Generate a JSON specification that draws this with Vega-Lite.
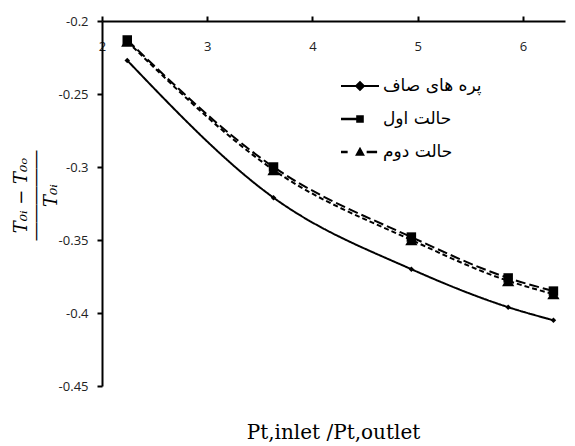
{
  "$schema": "https://vega.github.io/schema/vega-lite/v6.json",
  "width": 463,
  "height": 365,
  "autosize": "none",
  "padding": {"left": 102, "top": 21, "right": 10, "bottom": 60},
  "background": "white",
  "config": {
    "view": {"stroke": null},
    "axis": {"grid": false, "domainColor": "black", "domainWidth": 2, "tickColor": "black", "tickWidth": 2, "labelFont": "Open Sans", "labelFontSize": 13, "labelColor": "#222"}
  },
  "title": {"text": "Pt,inlet /Pt,outlet", "orient": "bottom", "font": "DejaVu Serif", "fontSize": 20, "fontWeight": "normal", "offset": 30, "color": "black"},
  "data": {"values": [
    {"series": "پره های صاف", "ratio": 2.24, "value": -0.227},
    {"series": "پره های صاف", "ratio": 3.63, "value": -0.321},
    {"series": "پره های صاف", "ratio": 4.94, "value": -0.370},
    {"series": "پره های صاف", "ratio": 5.86, "value": -0.396},
    {"series": "پره های صاف", "ratio": 6.29, "value": -0.405},
    {"series": "حالت دوم", "ratio": 2.24, "value": -0.214},
    {"series": "حالت دوم", "ratio": 3.63, "value": -0.302},
    {"series": "حالت دوم", "ratio": 4.94, "value": -0.350},
    {"series": "حالت دوم", "ratio": 5.86, "value": -0.378},
    {"series": "حالت دوم", "ratio": 6.29, "value": -0.387},
    {"series": "حالت اول", "ratio": 2.24, "value": -0.213},
    {"series": "حالت اول", "ratio": 3.63, "value": -0.300},
    {"series": "حالت اول", "ratio": 4.94, "value": -0.348},
    {"series": "حالت اول", "ratio": 5.86, "value": -0.376},
    {"series": "حالت اول", "ratio": 6.29, "value": -0.385}
  ]},
  "encoding": {
    "x": {"field": "ratio", "type": "quantitative", "scale": {"domain": [2, 6.4], "nice": false, "zero": false},
      "axis": {"orient": "top", "values": [2, 3, 4, 5, 6], "title": null, "tickSize": 5, "labelBaseline": "top", "labelPadding": -24, "labelFlush": false, "labelOverlap": false}},
    "y": {"field": "value", "type": "quantitative", "scale": {"domain": [-0.45, -0.2], "nice": false, "zero": false},
      "axis": {"values": [-0.45, -0.4, -0.35, -0.3, -0.25, -0.2], "labelExpr": "'' + datum.value", "tickSize": 5, "labelPadding": 9,
        "title": ["T₀ᵢ − T₀ₒ", "―――――", "T₀ᵢ"], "titleFont": "DejaVu Serif", "titleFontStyle": "italic", "titleFontWeight": "normal", "titleFontSize": 18, "titleColor": "black",
        "titleAngle": -90, "titleX": -81, "titleY": 174, "titleAlign": "center", "titleBaseline": "middle", "titleLineHeight": 15}}
  },
  "layer": [
    {
      "mark": {"type": "line", "color": "black", "strokeWidth": 2, "interpolate": "monotone"},
      "encoding": {
        "strokeDash": {"field": "series", "type": "nominal",
          "scale": {"domain": ["پره های صاف", "حالت اول", "حالت دوم"], "range": [[1, 0], [10, 4], [5, 3]]}, "legend": null}
      }
    },
    {
      "mark": {"type": "point", "filled": true, "color": "black", "opacity": 1},
      "encoding": {
        "shape": {"field": "series", "type": "nominal",
          "scale": {"domain": ["پره های صاف", "حالت اول", "حالت دوم"], "range": ["diamond", "square", "triangle-up"]}, "legend": null},
        "size": {"field": "series", "type": "nominal",
          "scale": {"domain": ["پره های صاف", "حالت اول", "حالت دوم"], "range": [30, 150, 90]}, "legend": null}
      }
    },
    {
      "mark": {"type": "point", "filled": true, "color": "black", "opacity": 0, "size": 1444},
      "encoding": {
        "shape": {"field": "series", "type": "nominal",
          "scale": {"domain": ["پره های صاف", "حالت اول", "حالت دوم"], "range": [
            "M-1,-0.05L1,-0.05L1,0.05L-1,0.05Z M0,-0.28L0.28,0L0,0.28L-0.28,0Z",
            "M-1,-0.07L-0.2,-0.07L-0.2,0.07L-1,0.07Z M-0.2,-0.2L0.2,-0.2L0.2,0.2L-0.2,0.2Z",
            "M-1,-0.06L-0.65,-0.06L-0.65,0.06L-1,0.06Z M0,-0.28L0.26,0.2L-0.26,0.2Z M0.35,-0.06L0.9,-0.06L0.9,0.06L0.35,0.06Z"
          ]},
          "legend": {"orient": "none", "legendX": 239, "legendY": 46, "title": null, "symbolSize": 1444, "symbolFillColor": "black", "symbolStrokeWidth": 0, "symbolOpacity": 1,
            "labelFontSize": 17, "labelFont": "DejaVu Sans", "labelColor": "black", "labelOffset": 4, "rowPadding": 6}
        }
      }
    }
  ],
  "resolve": {"scale": {"shape": "independent"}}
}
